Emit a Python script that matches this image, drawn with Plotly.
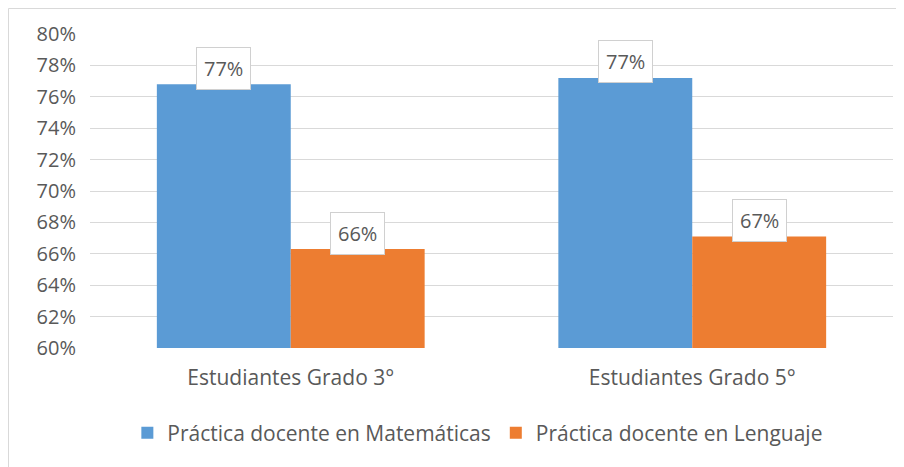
import plotly.graph_objects as go

categories = ["Estudiantes Grado 3°", "Estudiantes Grado 5°"]
series_names = ["Práctica docente en Matemáticas", "Práctica docente en Lenguaje"]
matematicas = [0.768, 0.772]
lenguaje = [0.663, 0.671]
label_mat = ["77%", "77%"]
label_len = ["66%", "67%"]
y_ticks = [0.60, 0.62, 0.64, 0.66, 0.68, 0.70, 0.72, 0.74, 0.76, 0.78, 0.80]

BLUE = "#5B9BD5"
ORANGE = "#ED7D31"
TXT = "#595959"
FONT = "Open Sans"
FS = 21

# page body has an 8px margin, so the figure is shrunk by 8px and margins reduced
W, H = 896, 459
ML, MR, MT, MB = 82, 11, 26, 119
PW = W - ML - MR
PH = H - MT - MB

fig = go.Figure()
fig.add_trace(go.Bar(x=categories, y=matematicas, name=series_names[0],
                     marker=dict(color=BLUE, line=dict(width=0))))
fig.add_trace(go.Bar(x=categories, y=lenguaje, name=series_names[1],
                     marker=dict(color=ORANGE, line=dict(width=0))))

bargap = 0.333
half = (1 - bargap) / 4
annotations = []
for i in range(len(categories)):
    for vals, labs, off in ((matematicas, label_mat, -half), (lenguaje, label_len, half)):
        annotations.append(dict(
            x=i + off, y=vals[i], xref="x", yref="y", text=labs[i],
            showarrow=False, yanchor="middle", yshift=16,
            bgcolor="white", bordercolor="#D0D0D0", borderwidth=1, borderpad=7,
            font=dict(family=FONT, size=20, color=TXT)))

fig.update_layout(
    width=W, height=H,
    margin=dict(l=ML, r=MR, t=MT, b=MB, autoexpand=False),
    paper_bgcolor="white", plot_bgcolor="white",
    barmode="group", bargap=bargap, bargroupgap=0,
    font=dict(family=FONT, color=TXT, size=FS),
    showlegend=True,
    legend=dict(orientation="h", x=0.483, xanchor="center",
                y=-(425 - (MT + PH)) / PH, yanchor="middle",
                font=dict(family=FONT, size=FS, color=TXT), traceorder="normal"),
    annotations=annotations,
    shapes=[dict(type="rect", xref="paper", yref="paper",
                 x0=(0.5 - ML) / PW, x1=1.2, y0=-0.6, y1=1 + (MT - 0.5) / PH,
                 line=dict(color="#D9D9D9", width=1), fillcolor="rgba(0,0,0,0)",
                 layer="below")],
)
fig.update_xaxes(type="category", showgrid=False, showline=False,
                 ticks="", ticklabelstandoff=15, automargin=False,
                 tickfont=dict(family=FONT, size=FS, color=TXT))
fig.update_yaxes(range=[0.6, 0.8], tickvals=y_ticks, tickformat=".0%",
                 showgrid=True, gridcolor="#D9D9D9", gridwidth=1, zeroline=False,
                 showline=False, ticks="", ticklabelstandoff=13, automargin=False,
                 tickfont=dict(family=FONT, size=20, color=TXT))

fig.write_html("out.html")
